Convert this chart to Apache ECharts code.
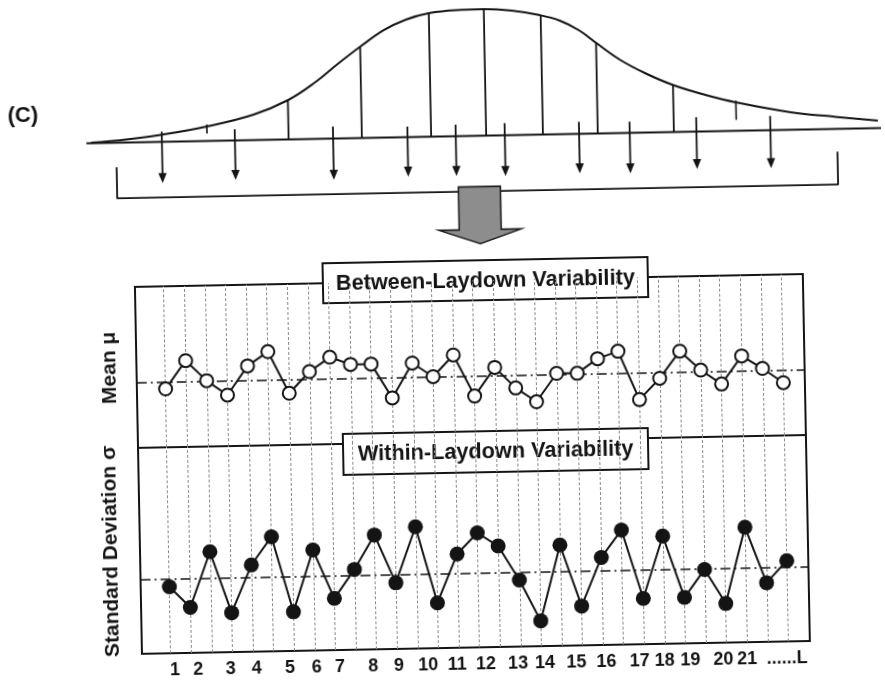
<!DOCTYPE html>
<html>
<head>
<meta charset="utf-8">
<script src="https://cdn.jsdelivr.net/npm/echarts@6/dist/echarts.min.js"></script>
<style>
  html, body { margin: 0; padding: 0; background: #ffffff; overflow: hidden; }
  /* the whole figure sits on a slight tilt */
  #chart { width: 885px; height: 680px; transform: rotate(-1.1deg); transform-origin: 50% 50%; }
</style>
</head>
<body>
<div id="chart"></div>
<script>
// ---- laydown panels -------------------------------------------------------
const laydown = [0, 1, 2, 3, 4, 5, 6, 7, 8, 9, 10, 11, 12, 13, 14, 15,
                 16, 17, 18, 19, 20, 21, 22, 23, 24, 25, 26, 27, 28, 29, 30];
const meanValues = [36.3, 53.6, 40.9, 31.7, 49.6, 58.2, 32.1, 45.3, 54.0, 49.3, 49.3,
                    28.0, 49.4, 40.7, 53.9, 28.2, 45.7, 32.7, 23.9, 41.3, 41.1, 49.9,
                    54.3, 24.0, 37.0, 53.6, 41.6, 32.7, 49.9, 41.9, 32.8];
const sdValues = [32.3, 22.1, 48.9, 19.1, 42.1, 55.6, 19.0, 48.8, 25.1, 39.0, 55.5,
                  32.1, 59.1, 22.0, 45.5, 55.6, 49.0, 32.3, 12.3, 48.9, 19.1, 42.5,
                  55.6, 22.2, 52.3, 22.3, 35.7, 19.0, 55.8, 28.7, 39.2];
const meanLevel = 40.7;
const sdLevel = 35.9;
const tickLabels = ['1', '2', '3', '4', '5', '6', '7', '8', '9', '10', '11', '12', '13',
                    '14', '15', '16', '17', '18', '19', '20', '21', '......L'];
const tickPositions = [0.20, 1.33, 2.90, 4.17, 5.78, 7.08, 8.21, 9.82, 11.08, 12.50, 13.90,
                       15.30, 16.86, 18.16, 19.70, 21.15, 22.77, 23.98, 25.23, 26.83, 27.99, 29.93];

// ---- population curve sketch ------------------------------------------------
const curveX = [10.73, 14.69, 18.64, 23.84, 29.15, 33.11, 36.16, 38.76, 41.36, 44.07, 46.55,
                49.15, 52.2, 55.37, 58.53, 61.69, 63.95, 66.1, 68.02, 70.62, 73.45, 76.61,
                80.23, 83.62, 89.83, 94.92, 99.66];
const curveY = [0.005, 0.025, 0.056, 0.115, 0.202, 0.313, 0.447, 0.590, 0.724, 0.851, 0.930,
                0.977, 0.997, 1.000, 0.985, 0.945, 0.898, 0.819, 0.716, 0.582, 0.471, 0.372,
                0.289, 0.226, 0.139, 0.096, 0.060];
const baselineX = [10.2, 100];
const ordinateX = [33.05, 41.33, 49.16, 55.38, 61.79, 67.99, 76.59];
const ordinateTop = [0.313, 0.724, 0.977, 1.000, 0.945, 0.716, 0.372];
const markX = [23.84, 83.66];
const markTop = [0.131, 0.240];
const markBottom = [0.060, 0.087];
const sampleX = [18.73, 26.98, 38.08, 46.49, 51.94, 57.48, 65.88, 71.60, 79.14, 87.50];
const sampleTop = [0.081, 0.089, 0.095, 0.084, 0.092, 0.096, 0.095, 0.089, 0.114, 0.113];
const sampleTip = [-0.326, -0.311, -0.326, -0.311, -0.314, -0.321, -0.311, -0.319, -0.297, -0.300];
const bracketX = [13.56, 13.56, 95.03, 95.03];
const bracketY = [-0.193, -0.440, -0.440, -0.179];
const bigArrowAt = [54.5, -0.402];

const INK = '#141414';
const FONT = '"Liberation Sans", Arial, sans-serif';

const chart = echarts.init(document.getElementById('chart'), null, { renderer: 'canvas' });

const gridLines = laydown.map(i => ({
  xAxis: i,
  lineStyle: { color: '#8a8a8a', width: 1, type: [3, 2] }
}));
const dashDot = { color: INK, width: 1.5, type: [10, 4, 2, 4] };

function hiddenValueAxis(extra) {
  return Object.assign({
    type: 'value',
    axisLine: { show: false },
    axisTick: { show: false },
    axisLabel: { show: false },
    splitLine: { show: false }
  }, extra);
}

const option = {
  animation: false,
  backgroundColor: '#ffffff',
  grid: [
    { left: 136, top: 281, width: 668, height: 161, show: true, borderColor: INK, borderWidth: 2 },
    { left: 136, top: 442, width: 668, height: 206, show: true, borderColor: INK, borderWidth: 2 },
    { left: 0, top: 0, width: 885, height: 263 }
  ],
  xAxis: [
    hiddenValueAxis({ gridIndex: 0, min: -1.394, max: 31.046 }),
    hiddenValueAxis({ gridIndex: 1, min: -1.394, max: 31.046 }),
    hiddenValueAxis({ gridIndex: 2, min: 0, max: 100 })
  ],
  yAxis: [
    hiddenValueAxis({
      gridIndex: 0, min: 0, max: 100,
      name: 'Mean μ', nameLocation: 'middle', nameRotate: 90, nameGap: 16,
      nameTextStyle: { fontFamily: FONT, fontWeight: 'bold', fontSize: 21, color: INK }
    }),
    hiddenValueAxis({
      gridIndex: 1, min: 0, max: 100,
      name: 'Standard Deviation σ', nameLocation: 'middle', nameRotate: 90, nameGap: 18,
      nameTextStyle: { fontFamily: FONT, fontWeight: 'bold', fontSize: 21, color: INK }
    }),
    hiddenValueAxis({ gridIndex: 2, min: -1, max: 1.08 })
  ],
  graphic: [
    {
      type: 'text', left: 12, top: 97, z: 100,
      style: { text: '(C)', font: 'bold 22px ' + FONT, fill: INK }
    },
    {
      type: 'group', left: 323, top: 260, z: 100,
      children: [
        { type: 'rect', shape: { x: 0, y: 0, width: 325, height: 40 },
          style: { fill: '#ffffff', stroke: INK, lineWidth: 2 } },
        { type: 'text', x: 162.5, y: 21,
          style: { text: 'Between-Laydown Variability', font: 'bold 21.7px ' + FONT, fill: INK,
                   align: 'center', verticalAlign: 'middle' } }
      ]
    },
    {
      type: 'group', left: 340, top: 431, z: 100,
      children: [
        { type: 'rect', shape: { x: 0, y: 0, width: 305, height: 41 },
          style: { fill: '#ffffff', stroke: INK, lineWidth: 2 } },
        { type: 'text', x: 152.5, y: 21.5,
          style: { text: 'Within-Laydown Variability', font: 'bold 21.7px ' + FONT, fill: INK,
                   align: 'center', verticalAlign: 'middle' } }
      ]
    }
  ],
  series: [
    // between-laydown means
    {
      type: 'line', xAxisIndex: 0, yAxisIndex: 0, z: 3,
      data: laydown.map((x, i) => [x, meanValues[i]]),
      symbol: 'circle', symbolSize: 13,
      itemStyle: { color: '#ffffff', borderColor: INK, borderWidth: 2 },
      lineStyle: { color: INK, width: 2 },
      markLine: {
        silent: true, symbol: 'none', z: 1, animation: false,
        label: { show: false },
        data: [{ yAxis: meanLevel, lineStyle: dashDot }].concat(gridLines)
      }
    },
    // within-laydown standard deviations
    {
      type: 'line', xAxisIndex: 1, yAxisIndex: 1, z: 3,
      data: laydown.map((x, i) => [x, sdValues[i]]),
      symbol: 'circle', symbolSize: 15,
      itemStyle: { color: INK },
      lineStyle: { color: INK, width: 2 },
      markLine: {
        silent: true, symbol: 'none', z: 1, animation: false,
        label: { show: false },
        data: [{ yAxis: sdLevel, lineStyle: dashDot }].concat(gridLines)
      }
    },
    // laydown numbering under the lower panel
    {
      type: 'custom', xAxisIndex: 1, yAxisIndex: 1, clip: false, silent: true,
      data: tickPositions.map((u, i) => [u, 0, i]),
      renderItem: (params, api) => {
        const p = api.coord([api.value(0), 0]);
        return {
          type: 'text', x: p[0], y: p[1] + 17,
          style: { text: tickLabels[api.value(2)], font: 'bold 18px ' + FONT, fill: INK,
                   align: 'center', verticalAlign: 'middle' }
        };
      }
    },
    // population curve
    {
      type: 'line', xAxisIndex: 2, yAxisIndex: 2, z: 3,
      data: curveX.map((x, i) => [x, curveY[i]]),
      smooth: 0.4, showSymbol: false, symbol: 'none',
      lineStyle: { color: INK, width: 2 }
    },
    // baseline of the population
    {
      type: 'line', xAxisIndex: 2, yAxisIndex: 2, z: 3,
      data: baselineX.map(x => [x, 0]),
      symbol: 'none', lineStyle: { color: INK, width: 2 }
    },
    // ordinates under the curve
    {
      type: 'custom', xAxisIndex: 2, yAxisIndex: 2, silent: true,
      data: ordinateX.map((x, i) => [x, ordinateTop[i], 0]),
      renderItem: (params, api) => {
        const a = api.coord([api.value(0), api.value(1)]);
        const b = api.coord([api.value(0), api.value(2)]);
        return { type: 'line', shape: { x1: a[0], y1: a[1], x2: b[0], y2: b[1] },
                 style: { stroke: INK, lineWidth: 1.8 } };
      }
    },
    // short marks on the tails
    {
      type: 'custom', xAxisIndex: 2, yAxisIndex: 2, silent: true,
      data: markX.map((x, i) => [x, markTop[i], markBottom[i]]),
      renderItem: (params, api) => {
        const a = api.coord([api.value(0), api.value(1)]);
        const b = api.coord([api.value(0), api.value(2)]);
        return { type: 'line', shape: { x1: a[0], y1: a[1], x2: b[0], y2: b[1] },
                 style: { stroke: INK, lineWidth: 1.6 } };
      }
    },
    // sampled laydowns
    {
      type: 'custom', xAxisIndex: 2, yAxisIndex: 2, silent: true,
      data: sampleX.map((x, i) => [x, sampleTop[i], sampleTip[i]]),
      renderItem: (params, api) => {
        const a = api.coord([api.value(0), api.value(1)]);
        const t = api.coord([api.value(0), api.value(2)]);
        return {
          type: 'group',
          children: [
            { type: 'line', shape: { x1: a[0], y1: a[1], x2: t[0], y2: t[1] - 8 },
              style: { stroke: INK, lineWidth: 1.8 } },
            { type: 'polygon',
              shape: { points: [[t[0] - 4.2, t[1] - 10], [t[0] + 4.2, t[1] - 10], [t[0], t[1]]] },
              style: { fill: INK } }
          ]
        };
      }
    },
    // bracket collecting the samples
    {
      type: 'line', xAxisIndex: 2, yAxisIndex: 2, z: 3,
      data: bracketX.map((x, i) => [x, bracketY[i]]),
      symbol: 'none', lineStyle: { color: INK, width: 1.8 }
    },
    // block arrow leading to the panels
    {
      type: 'custom', xAxisIndex: 2, yAxisIndex: 2, silent: true, z: 5,
      data: [bigArrowAt],
      renderItem: (params, api) => {
        const p = api.coord([api.value(0), api.value(1)]);
        const x = p[0], y = p[1];
        return {
          type: 'polygon',
          shape: { points: [
            [x - 21, y], [x + 21, y], [x + 21, y + 43], [x + 41, y + 43],
            [x, y + 57], [x - 41, y + 43], [x - 21, y + 43]
          ] },
          style: { fill: '#8d8d8d', stroke: '#202020', lineWidth: 1.6 }
        };
      }
    }
  ]
};

chart.setOption(option);
</script>
</body>
</html>
